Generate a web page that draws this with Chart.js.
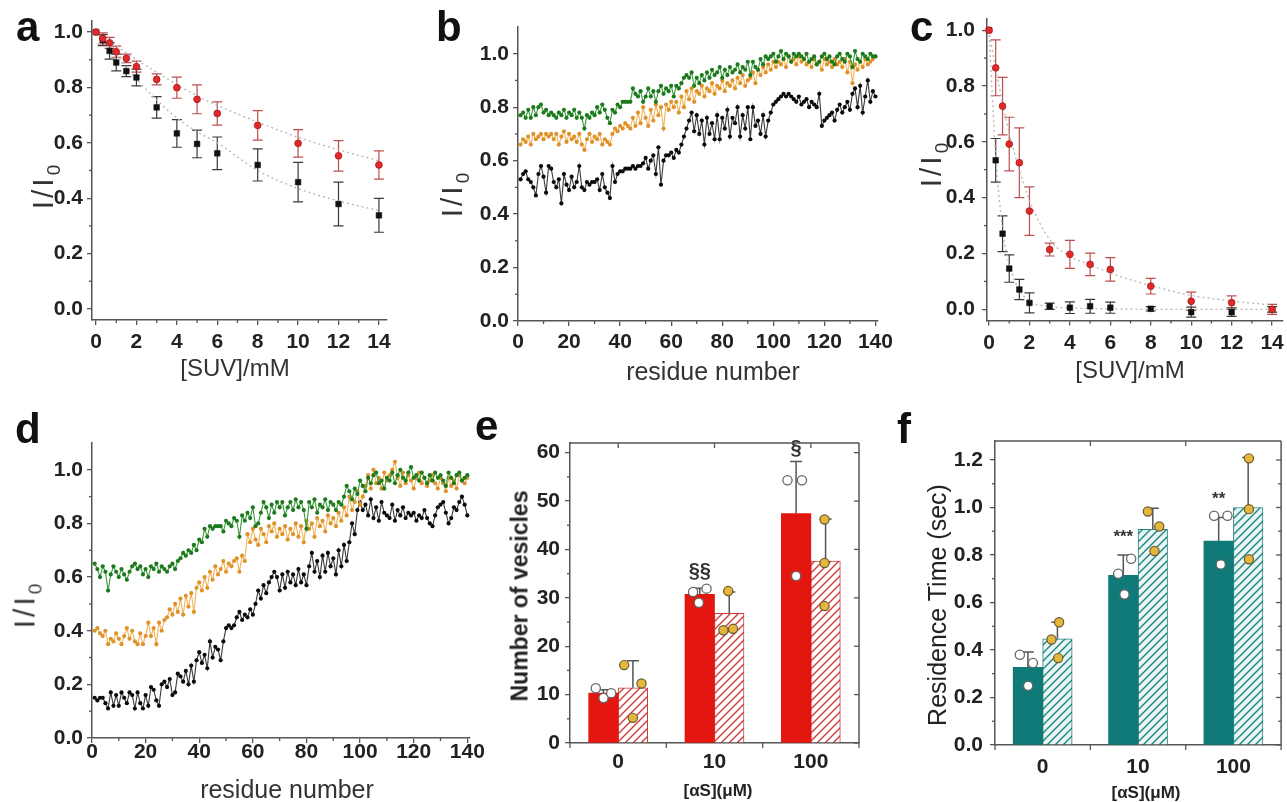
<!DOCTYPE html>
<html><head><meta charset="utf-8">
<script src="https://cdn.jsdelivr.net/npm/chart.js@4.4.1/dist/chart.umd.min.js"></script>
<style>
html,body{margin:0;padding:0;background:#fff;}
body{width:1287px;height:802px;position:relative;overflow:hidden;font-family:'Liberation Sans',Arial,sans-serif;}
canvas{position:absolute;}
.lbl{position:absolute;font-weight:bold;font-size:42px;line-height:1;color:#111;}
.t{position:absolute;white-space:nowrap;color:#333;line-height:1;transform:translate(-50%,-50%);}
.r{transform:translate(-50%,-50%) rotate(-90deg);}
.ii{font-size:30px;letter-spacing:3px;}
.ii sub{font-size:19px;vertical-align:-7px;letter-spacing:0;}
</style></head><body>
<canvas id="ca" width="420" height="400" style="left:0;top:0"></canvas>
<canvas id="cb" width="480" height="400" style="left:420px;top:0"></canvas>
<canvas id="cc" width="407" height="400" style="left:880px;top:0"></canvas>
<canvas id="cd" width="495" height="402" style="left:0;top:400px"></canvas>
<canvas id="ce" width="390" height="402" style="left:480px;top:400px"></canvas>
<canvas id="cf" width="407" height="402" style="left:880px;top:400px"></canvas>

<div class="lbl" style="left:16px;top:6px">a</div>
<div class="lbl" style="left:436px;top:6px">b</div>
<div class="lbl" style="left:910px;top:6px">c</div>
<div class="lbl" style="left:15px;top:408px">d</div>
<div class="lbl" style="left:475px;top:405px">e</div>
<div class="lbl" style="left:897px;top:408px">f</div>

<div class="t r ii" style="left:45px;top:187px">I/I<sub>0</sub></div>
<div class="t" style="left:235px;top:368px;font-size:24px">[SUV]/mM</div>
<div class="t r ii" style="left:454px;top:195px">I/I<sub>0</sub></div>
<div class="t" style="left:713px;top:371px;font-size:25px">residue number</div>
<div class="t r ii" style="left:933px;top:165px">I/I<sub>0</sub></div>
<div class="t" style="left:1130px;top:370px;font-size:24px">[SUV]/mM</div>
<div class="t r ii" style="left:27px;top:606px">I/I<sub>0</sub></div>
<div class="t" style="left:287px;top:789px;font-size:25px">residue number</div>
<div class="t r" style="left:520px;top:596px;font-size:23px;font-weight:bold;color:#222">Number of vesicles</div>
<div class="t" style="left:718px;top:790px;font-size:17px;font-weight:bold;color:#222">[αS](μM)</div>
<div class="t r" style="left:937px;top:605px;font-size:25px;color:#222">Residence Time (sec)</div>
<div class="t" style="left:1146px;top:792px;font-size:17px;font-weight:bold;color:#222">[αS](μM)</div>

<script>
// ---------------- DATA ----------------
const suvConc = [0,0.33,0.67,1,1.5,2,3,4,5,6,8,10,12,14];
const aRed      = [1.0,0.977,0.961,0.929,0.905,0.875,0.829,0.799,0.757,0.706,0.663,0.598,0.553,0.52];
const aRedErr   = [0,0.02,0.02,0.02,0.015,0.02,0.02,0.038,0.052,0.042,0.053,0.05,0.055,0.051];
const aBlack    = [1.0,0.971,0.932,0.89,0.859,0.836,0.728,0.634,0.596,0.562,0.52,0.458,0.379,0.338];
const aBlackErr = [0,0.02,0.03,0.03,0.02,0.03,0.039,0.05,0.05,0.059,0.058,0.071,0.079,0.061];
const aFitX     = [0,1,2,3,4,5,6,8,10,12,14];
const aRedFit   = [1.0,0.95,0.9,0.855,0.81,0.77,0.735,0.675,0.62,0.575,0.535];
const aBlackFit = [1.0,0.92,0.83,0.755,0.69,0.64,0.6,0.5,0.435,0.39,0.355];

const cRed      = [1.0,0.865,0.728,0.592,0.525,0.352,0.214,0.197,0.161,0.143,0.083,0.029,0.024,0.0];
const cRedErr   = [0,0.1,0.103,0.096,0.125,0.087,0.023,0.05,0.04,0.042,0.028,0.033,0.024,0.018];
const cBlack    = [1.0,0.534,0.271,0.146,0.071,0.023,0.011,0.006,0.011,0.006,0.002,-0.01,-0.01,0.0];
const cBlackErr = [0,0.078,0.064,0.049,0.036,0.036,0.011,0.021,0.025,0.02,0.008,0.018,0.015,0.01];
const cFitX     = [0,0.33,0.67,1,1.5,2,3,4,5,6,8,10,12,14];
const cRedFit   = [1.0,0.86,0.74,0.63,0.5,0.39,0.25,0.19,0.16,0.13,0.085,0.05,0.03,0.015];
const cBlackFit = [1.0,0.55,0.29,0.16,0.07,0.03,0.01,0.005,0.003,0.002,0.0,0.0,0.0,0.0];

const residues = Array.from({length:140},(_,i)=>i+1);
const bGreen = [0.77,0.78,0.76,0.79,0.76,0.80,0.77,0.80,0.81,0.78,0.79,0.77,0.78,0.77,0.76,0.78,0.77,0.79,0.76,0.78,
0.77,0.79,0.76,0.78,0.76,0.72,0.77,0.76,0.78,0.77,0.80,0.78,0.81,0.79,0.76,0.74,0.79,0.78,0.81,0.80,
0.82,0.82,0.82,0.82,0.87,0.85,0.84,0.86,0.82,0.84,0.87,0.84,0.86,0.82,0.86,0.88,0.85,0.87,0.86,0.88,
0.84,0.88,0.87,0.89,0.91,0.92,0.91,0.93,0.88,0.91,0.89,0.92,0.90,0.93,0.91,0.94,0.92,0.93,0.95,0.91,
0.94,0.92,0.95,0.93,0.94,0.96,0.93,0.95,0.94,0.97,0.92,0.97,0.95,0.94,0.98,0.96,0.99,0.98,0.99,1.00,
0.97,0.99,1.01,0.98,1.00,0.99,0.97,1.00,0.99,1.00,0.99,0.98,1.00,0.97,0.98,0.99,0.96,0.97,0.99,1.00,
0.98,0.99,0.97,0.96,0.99,1.00,0.98,0.97,1.00,0.99,0.95,1.01,0.98,0.97,1.00,0.99,0.98,1.00,0.99,0.99];
const bOrange = [0.66,0.68,0.67,0.69,0.66,0.70,0.68,0.69,0.70,0.68,0.70,0.69,0.70,0.68,0.70,0.66,0.69,0.71,0.67,0.70,
0.68,0.69,0.67,0.70,0.66,0.64,0.68,0.70,0.67,0.69,0.68,0.70,0.66,0.68,0.67,0.66,0.70,0.72,0.71,0.73,
0.72,0.74,0.73,0.72,0.76,0.73,0.78,0.74,0.80,0.76,0.73,0.79,0.75,0.81,0.77,0.80,0.72,0.81,0.79,0.82,
0.80,0.82,0.78,0.84,0.80,0.86,0.83,0.87,0.82,0.86,0.85,0.88,0.84,0.87,0.86,0.89,0.85,0.88,0.87,0.90,
0.86,0.89,0.88,0.90,0.87,0.91,0.89,0.92,0.88,0.90,0.91,0.93,0.89,0.94,0.92,0.95,0.93,0.96,0.94,0.97,
0.95,0.97,0.96,0.98,0.95,0.99,0.97,0.98,0.96,0.99,0.97,0.98,0.96,0.97,0.95,0.98,0.96,0.97,0.94,0.98,
0.96,0.97,0.95,0.98,0.96,0.97,0.95,0.98,0.93,0.97,0.89,0.96,0.94,0.97,0.95,0.98,0.96,0.97,0.98,0.99];
const bBlack = [0.53,0.55,0.56,0.53,0.52,0.50,0.47,0.55,0.58,0.54,0.48,0.58,0.57,0.52,0.50,0.53,0.44,0.55,0.51,0.49,
0.54,0.50,0.52,0.58,0.50,0.49,0.52,0.51,0.52,0.52,0.53,0.49,0.55,0.50,0.48,0.46,0.58,0.52,0.55,0.56,
0.56,0.57,0.57,0.57,0.58,0.57,0.58,0.58,0.59,0.61,0.57,0.60,0.62,0.55,0.65,0.51,0.60,0.62,0.62,0.63,
0.61,0.64,0.63,0.66,0.69,0.72,0.75,0.78,0.71,0.77,0.70,0.75,0.66,0.76,0.70,0.74,0.68,0.77,0.68,0.76,
0.72,0.79,0.69,0.76,0.74,0.80,0.69,0.77,0.72,0.80,0.68,0.80,0.73,0.75,0.70,0.77,0.69,0.75,0.78,0.81,
0.82,0.83,0.84,0.85,0.84,0.85,0.84,0.83,0.82,0.84,0.81,0.82,0.83,0.80,0.82,0.81,0.80,0.85,0.73,0.75,
0.76,0.77,0.78,0.75,0.79,0.81,0.78,0.80,0.82,0.79,0.85,0.87,0.80,0.88,0.78,0.84,0.90,0.82,0.86,0.84];

const dGreen = [0.65,0.63,0.60,0.64,0.62,0.55,0.61,0.64,0.62,0.60,0.63,0.61,0.59,0.62,0.64,0.65,0.63,0.64,0.61,0.63,
0.60,0.64,0.63,0.65,0.62,0.64,0.63,0.62,0.64,0.65,0.63,0.66,0.67,0.69,0.68,0.70,0.69,0.72,0.70,0.74,
0.73,0.78,0.75,0.79,0.78,0.79,0.79,0.79,0.77,0.81,0.80,0.79,0.82,0.81,0.75,0.83,0.81,0.84,0.82,0.86,
0.79,0.80,0.84,0.88,0.86,0.82,0.87,0.84,0.88,0.86,0.88,0.83,0.86,0.88,0.85,0.89,0.86,0.88,0.85,0.78,
0.88,0.86,0.89,0.84,0.87,0.86,0.89,0.85,0.88,0.87,0.85,0.88,0.87,0.90,0.94,0.92,0.89,0.93,0.91,0.96,
0.94,0.92,0.97,0.95,0.98,0.99,0.95,0.96,0.93,0.97,0.96,0.99,0.95,0.98,1.00,0.97,0.96,0.99,1.01,0.97,
0.98,0.96,0.99,0.97,0.95,0.98,0.96,0.99,0.97,0.98,0.96,0.94,0.99,0.97,0.95,0.98,0.99,0.96,0.97,0.98];
const dOrange = [0.40,0.41,0.39,0.38,0.40,0.35,0.37,0.36,0.39,0.37,0.35,0.38,0.41,0.37,0.40,0.36,0.35,0.39,0.35,0.38,
0.43,0.38,0.41,0.35,0.43,0.40,0.44,0.45,0.48,0.46,0.50,0.47,0.52,0.46,0.53,0.49,0.54,0.47,0.56,0.58,
0.55,0.60,0.56,0.62,0.59,0.64,0.61,0.63,0.66,0.62,0.65,0.64,0.66,0.67,0.62,0.68,0.66,0.76,0.73,0.78,
0.74,0.72,0.78,0.76,0.73,0.79,0.77,0.80,0.75,0.78,0.76,0.79,0.74,0.78,0.76,0.80,0.75,0.79,0.73,0.81,
0.78,0.80,0.75,0.82,0.79,0.81,0.77,0.83,0.80,0.82,0.79,0.84,0.81,0.86,0.83,0.90,0.85,0.88,0.92,0.87,
0.90,0.94,0.98,0.93,1.00,0.95,0.97,0.93,0.99,0.96,0.98,1.00,1.03,0.97,0.94,0.99,0.95,0.98,0.96,0.93,
0.97,0.99,0.95,0.97,0.94,0.96,0.98,0.95,0.93,0.97,0.95,0.92,0.97,0.94,0.96,0.93,0.98,0.96,0.95,0.97];
const dBlack = [0.15,0.14,0.15,0.15,0.13,0.11,0.17,0.12,0.16,0.12,0.17,0.15,0.13,0.17,0.16,0.11,0.17,0.13,0.11,0.16,
0.12,0.19,0.18,0.14,0.12,0.20,0.21,0.19,0.22,0.16,0.17,0.24,0.23,0.21,0.25,0.20,0.27,0.21,0.29,0.32,
0.28,0.31,0.26,0.36,0.30,0.34,0.33,0.29,0.36,0.41,0.42,0.41,0.42,0.45,0.47,0.44,0.46,0.45,0.48,0.46,
0.50,0.55,0.52,0.57,0.54,0.58,0.60,0.62,0.60,0.55,0.61,0.56,0.62,0.58,0.61,0.57,0.63,0.58,0.61,0.57,
0.64,0.69,0.62,0.66,0.60,0.68,0.62,0.69,0.64,0.67,0.61,0.70,0.64,0.72,0.66,0.73,0.80,0.76,0.85,0.88,
0.85,0.87,0.83,0.89,0.82,0.86,0.81,0.88,0.84,0.83,0.82,0.87,0.81,0.85,0.83,0.86,0.82,0.84,0.83,0.84,
0.81,0.83,0.82,0.85,0.82,0.80,0.79,0.83,0.86,0.87,0.88,0.84,0.80,0.82,0.86,0.85,0.88,0.90,0.87,0.83];

const aSconc = ['0','10','100'];
const eSolid = [10.3,30.7,47.4],  eSolidErr = [0.7,1.3,10.8];
const eHatch = [11.4,26.8,37.6],  eHatchErr = [5.6,4.4,8.7];
const eSolidPts = [[11.3,9.3,10.3],[31.2,29.0,31.9],[54.3,54.3,34.5]];
const eHatchPts = [[16.1,5.2,12.3],[31.4,23.3,23.6],[46.2,37.2,28.3]];
const eSig = ['','§§','§'], eSigY = [0,35.4,60.8];

const fSolid = [0.327,0.714,0.859], fSolidErr = [0.065,0.086,0.099];
const fHatch = [0.447,0.908,1.0],   fHatchErr = [0.07,0.089,0.211];
const fSolidPts = [[0.38,0.345,0.249],[0.784,0.721,0.634],[0.965,0.965,0.76]];
const fHatchPts = [[0.517,0.444,0.366],[0.983,0.92,0.817],[1.207,0.993,0.782]];
const fSig = ['','***','**'], fSigY = [0,0.873,1.035];

const tickI   = ['0.0','0.2','0.4','0.6','0.8','1.0'];
const tickSUV = ['0','2','4','6','8','10','12','14'];
const tickRes = ['0','20','40','60','80','100','120','140'];
const tickVes = ['0','10','20','30','40','50','60'];
const tickRT  = ['0.0','0.2','0.4','0.6','0.8','1.0','1.2'];

// --------------- STYLE / HELPERS ---------------
const FONT = "'Liberation Sans', Arial, sans-serif";
Chart.defaults.font.family = FONT;
Chart.defaults.animation = false;
const AX = '#555';
const eSolidJit = [[-0.08,0,0.08],[-0.07,-0.01,0.07],[-0.09,0.06,0]];
const eHatchJit = [[-0.09,0,0.09],[-0.01,-0.06,0.04],[-0.01,-0.01,-0.01]];
const fSolidJit = [[-0.087,0.05,0],[0.08,-0.056,0.01],[-0.05,0.09,0.02]];
const fHatchJit = [[0.02,-0.06,0.01],[-0.05,0.07,0.02],[0.01,0.01,0.01]];
const BAROFF = 0.1525;
const BARW = 29.5;
const catIdx = aSconc.map((_,i)=>i);

function hatch(fg,bg){
  const c=document.createElement('canvas');c.width=c.height=8;
  const g=c.getContext('2d');g.fillStyle=bg;g.fillRect(0,0,8,8);
  g.strokeStyle=fg;g.lineWidth=1.4;g.beginPath();
  g.moveTo(0,8);g.lineTo(8,0);g.moveTo(-2,2);g.lineTo(2,-2);g.moveTo(6,10);g.lineTo(10,6);g.stroke();
  return g.createPattern(c,'repeat');
}
const xy = (xs,ys)=>xs.map((x,i)=>({x:x,y:ys[i]}));
const fixTicks = labels => (s)=>{ s.ticks = labels.map(l=>({value:parseFloat(l)})); };
const fitW = (w)=>(s)=>{ s.width=w; s.paddingTop=0; s.paddingBottom=0; };
const fitH = (h)=>(s)=>{ s.height=h; s.paddingLeft=0; s.paddingRight=0; };
const tickFont = {size:21, weight:'bold'};

function yAxis(min,max,labels,w,pad){
  return {type:'linear',min,max,afterBuildTicks:fixTicks(labels),afterFit:fitW(w),
    ticks:{callback:(v,i)=>labels[i],font:tickFont,color:'#222',padding:pad,autoSkip:false},
    grid:{drawOnChartArea:false,drawTicks:true,tickLength:5,color:AX,lineWidth:1.3},
    border:{color:AX,width:1.5}};
}
function xAxisLin(min,max,labels,h,pad){
  return {type:'linear',min,max,afterBuildTicks:fixTicks(labels),afterFit:fitH(h),
    ticks:{callback:(v,i)=>labels[i],font:tickFont,color:'#222',padding:pad,autoSkip:false,maxRotation:0},
    grid:{drawOnChartArea:false,drawTicks:true,tickLength:5,color:AX,lineWidth:1.3},
    border:{color:AX,width:1.5}};
}

const decor = {
  id:'decor',
  beforeDatasetsDraw(chart){
    const ctx=chart.ctx, ys=chart.scales.y;
    chart.data.datasets.forEach((ds,i)=>{
      if(!ds.errs || ds.errMode!=='sym') return;
      const meta=chart.getDatasetMeta(i);
      ctx.save(); ctx.strokeStyle=ds.errColor; ctx.lineWidth=1.2;
      meta.data.forEach((el,j)=>{
        const e=ds.errs[j]; if(!e) return;
        const v=ds.data[j].y, x=el.x, w=5;
        const y1=ys.getPixelForValue(v+e), y2=ys.getPixelForValue(v-e);
        ctx.beginPath();ctx.moveTo(x,y1);ctx.lineTo(x,y2);
        ctx.moveTo(x-w,y1);ctx.lineTo(x+w,y1);ctx.moveTo(x-w,y2);ctx.lineTo(x+w,y2);ctx.stroke();
      });
      ctx.restore();
    });
  },
  afterDatasetDraw(chart,args){
    const ds=chart.data.datasets[args.index];
    if(!ds.errs || ds.errMode!=='up') return;
    const ctx=chart.ctx, ys=chart.scales.y, meta=args.meta;
    ctx.save(); ctx.strokeStyle='#555'; ctx.lineWidth=1.5;
    meta.data.forEach((el,j)=>{
      const v=ds.data[j].y, e=ds.errs[j], x=el.x, w=6;
      const y1=ys.getPixelForValue(v+e);
      ctx.beginPath();ctx.moveTo(x,el.y);ctx.lineTo(x,y1);ctx.moveTo(x-w,y1);ctx.lineTo(x+w,y1);ctx.stroke();
    });
    if(ds.sig){
      ctx.fillStyle='#333';ctx.font='bold '+(ds.sigSize||18)+'px '+FONT;ctx.textAlign='center';ctx.textBaseline='middle';
      meta.data.forEach((el,j)=>{ if(ds.sig[j]) ctx.fillText(ds.sig[j], el.x, ys.getPixelForValue(ds.sigY[j])); });
    }
    ctx.restore();
  },
  afterDraw(chart,args,o){
    if(!o || !o.on) return;
    const ctx=chart.ctx, ca=chart.chartArea, xs=chart.scales.x, ys=chart.scales.y;
    ctx.save(); ctx.strokeStyle=AX; ctx.lineWidth=1.3;
    const L=(x1,y1,x2,y2)=>{ctx.beginPath();ctx.moveTo(x1,y1);ctx.lineTo(x2,y2);ctx.stroke();};
    (o.minorY||[]).forEach(v=>{const y=ys.getPixelForValue(v);L(ca.left-3,y,ca.left,y);});
    (o.minorX||[]).forEach(v=>{const x=xs.getPixelForValue(v);L(x,ca.bottom,x,ca.bottom+3);});
    (o.bottomTicks||[]).forEach(v=>{const x=xs.getPixelForValue(v);L(x,ca.bottom,x,ca.bottom+5);});
    if(o.frame){
      ctx.lineWidth=1.5;
      L(ca.left-0.75,ca.top,ca.right,ca.top); L(ca.right,ca.top,ca.right,ca.bottom);
      ctx.lineWidth=1.3;
      (o.rightMajor||[]).forEach(v=>{const y=ys.getPixelForValue(v);L(ca.right-5,y,ca.right,y);});
      (o.rightMinor||[]).forEach(v=>{const y=ys.getPixelForValue(v);L(ca.right-3,y,ca.right,y);});
      (o.topTicks||[]).forEach(v=>{const x=xs.getPixelForValue(v);L(x,ca.top,x,ca.top+5);});
    }
    ctx.restore();
  }
};
Chart.register(decor);

const baseOpts = (extra)=>Object.assign({responsive:false,devicePixelRatio:1,animation:false,events:[],
  plugins:{legend:{display:false},tooltip:{enabled:false}}},extra);

function fitDs(x,y){return {type:'line',data:xy(x,y),borderColor:'#b5b5b5',borderWidth:1.3,borderDash:[2,3],
  pointRadius:0,tension:0.4,cubicInterpolationMode:'monotone',order:5,clip:false};}
function redDs(y,e){return {type:'line',data:xy(suvConc,y),showLine:false,pointStyle:'circle',pointRadius:3.4,
  pointBackgroundColor:'#e02a2a',pointBorderColor:'#a81c1c',pointBorderWidth:0.8,errs:e,errMode:'sym',errColor:'rgba(180,60,60,0.9)',order:1,clip:false};}
function blackDs(y,e){return {type:'line',data:xy(suvConc,y),showLine:false,pointStyle:'rect',pointRadius:4,
  pointBackgroundColor:'#111',pointBorderColor:'#111',pointBorderWidth:0.5,errs:e,errMode:'sym',errColor:'#3a3a3a',order:2,clip:false};}

// Panel a
new Chart(document.getElementById('ca'),{type:'line',
  data:{datasets:[redDs(aRed,aRedErr),blackDs(aBlack,aBlackErr),fitDs(aFitX,aRedFit),fitDs(aFitX,aBlackFit)]},
  options:baseOpts({layout:{padding:{left:0,top:21,right:33,bottom:0}},
    scales:{x:xAxisLin(-0.2,14.4,tickSUV,80,5),y:yAxis(-0.04,1.04,tickI,92,4)},
    plugins:{legend:{display:false},tooltip:{enabled:false},decor:{on:true,minorY:[0.1,0.3,0.5,0.7,0.9],minorX:[1,3,5,7,9,11,13]}}})});

// Panel c
new Chart(document.getElementById('cc'),{type:'line',
  data:{datasets:[redDs(cRed,cRedErr),blackDs(cBlack,cBlackErr),fitDs(cFitX,cRedFit),fitDs(cFitX,cBlackFit)]},
  options:baseOpts({layout:{padding:{left:0,top:19,right:4,bottom:0}},
    scales:{x:xAxisLin(-0.1,14.5,tickSUV,79.5,5),y:yAxis(-0.04,1.04,tickI,107,7)},
    plugins:{legend:{display:false},tooltip:{enabled:false},decor:{on:true,minorY:[0.1,0.3,0.5,0.7,0.9],minorX:[1,3,5,7,9,11,13]}}})});

// Residue panels
function resDs(vals,line,pt,ord){return {data:xy(residues,vals),borderColor:line,borderWidth:1.1,pointRadius:2.1,
  pointBackgroundColor:pt,pointBorderWidth:0,tension:0,order:ord,clip:false};}
function resChart(id,g,o,k,padTop,yW,xH,right,xPad){
  new Chart(document.getElementById(id),{type:'line',
    data:{datasets:[resDs(g,'#3a9a3a','#1c7a1c',0),resDs(o,'#f0b45a','#df9228',1),resDs(k,'#3a3a3a','#0a0a0a',2)]},
    options:baseOpts({layout:{padding:{left:0,top:padTop,right:right,bottom:0}},
      scales:{x:xAxisLin(0,141,tickRes,xH,xPad),y:yAxis(0,1.1,tickI,yW,4)},
      plugins:{legend:{display:false},tooltip:{enabled:false},decor:{on:true,minorY:[0.1,0.3,0.5,0.7,0.9],minorX:[10,30,50,70,90,110,130]}}})});
}
resChart('cb',bGreen,bOrange,bBlack,27,98,79,480-458,4);
resChart('cd',dGreen,dOrange,dBlack,443-400,92,64,495-470,-3);

// Bar panels
function ptsData(pts,jit,off){return pts.flatMap((arr,i)=>arr.map((v,k)=>({x:catIdx[i]+off+jit[i][k],y:v})));}
function barChart(id,cfg){
  const solidPat=cfg.solid, hatchPat=hatch(cfg.stripe,cfg.hatchBg);
  new Chart(document.getElementById(id),{type:'bar',
    data:{datasets:[
      {type:'bar',data:xy(catIdx,cfg.s),backgroundColor:solidPat,borderWidth:0,errs:cfg.sErr,errMode:'up',sig:cfg.sig,sigY:cfg.sigY,sigSize:cfg.sigSize,order:1,barThickness:BARW},
      {type:'bar',data:xy(catIdx,cfg.h),backgroundColor:hatchPat,borderColor:cfg.stripe,borderWidth:1,borderSkipped:'bottom',errs:cfg.hErr,errMode:'up',order:2,barThickness:BARW},
      {type:'scatter',data:ptsData(cfg.sPts,cfg.sJit,-BAROFF),pointRadius:4.6,pointBackgroundColor:'#fff',pointBorderColor:'#666',pointBorderWidth:1.3,order:0,clip:false},
      {type:'scatter',data:ptsData(cfg.hPts,cfg.hJit,BAROFF),pointRadius:4.6,pointBackgroundColor:'#e4b63c',pointBorderColor:'#6a5a30',pointBorderWidth:1.2,order:0,clip:false}
    ]},
    options:baseOpts({layout:{padding:cfg.pad},
      scales:{
        x:{type:'linear',min:-0.5,max:2.5,offset:false,afterBuildTicks:(s)=>{s.ticks=catIdx.map(v=>({value:v}));},afterFit:fitH(cfg.xH),
           ticks:{callback:(v,i)=>aSconc[i],font:{size:21,weight:'bold'},color:'#222',padding:cfg.xPad,maxRotation:0,autoSkip:false},
           grid:{drawOnChartArea:false,drawTicks:false,color:AX,lineWidth:1.3},border:{color:AX,width:1.5}},
        y:yAxis(0,cfg.ymax,cfg.ticks,cfg.yW,cfg.yPad)
      },
      plugins:{legend:{display:false},tooltip:{enabled:false},decor:{on:true,frame:true,minorY:cfg.minor,bottomTicks:[-0.5,0.5,1.5,2.5],
        rightMajor:cfg.ticks.map(parseFloat),rightMinor:cfg.rminor,topTicks:cfg.top}}})});
}
barChart('ce',{solid:'#e3170f',stripe:'#d23a3a',hatchBg:'#ffffff',s:eSolid,sErr:eSolidErr,h:eHatch,hErr:eHatchErr,
  sPts:eSolidPts,hPts:eHatchPts,sJit:eSolidJit,hJit:eHatchJit,sig:eSig,sigY:eSigY,sigSize:20,
  pad:{left:0,top:43,right:11,bottom:0},xH:59,xPad:7,ymax:62,ticks:tickVes,yW:90,yPad:5,
  minor:[5,15,25,35,45,55],rminor:[],top:[0,1,2]});
barChart('cf',{solid:'#0f7a77',stripe:'#23837f',hatchBg:'#e8f6f5',s:fSolid,sErr:fSolidErr,h:fHatch,hErr:fHatchErr,
  sPts:fSolidPts,hPts:fHatchPts,sJit:fSolidJit,hJit:fHatchJit,sig:fSig,sigY:fSigY,sigSize:17,
  pad:{left:0,top:41,right:1,bottom:0},xH:57,xPad:10,ymax:1.28,ticks:tickRT,yW:115,yPad:7,
  minor:[0.1,0.3,0.5,0.7,0.9,1.1],rminor:[0.1,0.3,0.5,0.7,0.9,1.1],top:[0.5,1.5]});
</script>
</body></html>
